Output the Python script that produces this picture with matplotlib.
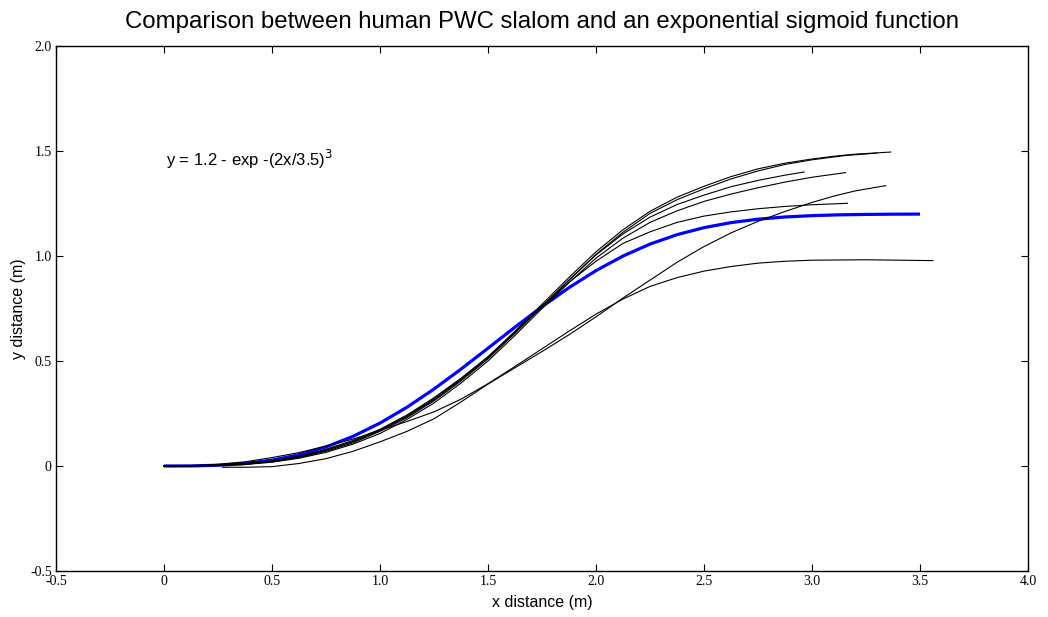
import matplotlib
matplotlib.use("Agg")
import matplotlib.pyplot as plt

# Fitted sigmoid y = 1.2(1 - exp(-(2x/3.5)^3)), tabulated
sig_x = [0, 0.125, 0.25, 0.375, 0.5, 0.625, 0.75, 0.875, 1.0, 1.125, 1.25, 1.375,
         1.5, 1.625, 1.75, 1.875, 2.0, 2.125, 2.25, 2.375, 2.5, 2.625, 2.75,
         2.875, 3.0, 3.125, 3.25, 3.375, 3.5]
sig_y = [0, 0.0004, 0.0035, 0.0117, 0.0277, 0.0534, 0.0908, 0.141, 0.2043, 0.280,
         0.3665, 0.4613, 0.5608, 0.6612, 0.7585, 0.8493, 0.9303, 0.9997, 1.0567,
         1.1015, 1.135, 1.159, 1.1753, 1.1858, 1.1922, 1.196, 1.198, 1.1991, 1.1996]

# Recorded PWC slalom trajectories (x, y in metres)
grid = [0, 0.125, 0.25, 0.375, 0.5, 0.625, 0.75, 0.875, 1.0, 1.125, 1.25, 1.375,
        1.5, 1.625, 1.75, 1.875, 2.0, 2.125, 2.25, 2.375, 2.5, 2.625, 2.75, 2.875, 3.0]

run1_x = grid + [3.1, 3.2, 3.364]
run1_y = [0, 0.001, 0.004, 0.011, 0.022, 0.043, 0.075, 0.116, 0.17, 0.238, 0.32, 0.414,
          0.52, 0.642, 0.77, 0.898, 1.02, 1.125, 1.213, 1.28, 1.332, 1.378, 1.415, 1.442,
          1.462, 1.475, 1.485, 1.495]

run2_x = grid + [3.15, 3.3]
run2_y = [0, 0.001, 0.003, 0.009, 0.02, 0.04, 0.07, 0.11, 0.165, 0.23, 0.31, 0.405,
          0.51, 0.632, 0.76, 0.886, 1.008, 1.113, 1.203, 1.268, 1.32, 1.367, 1.405, 1.436,
          1.458, 1.478, 1.49]

run3_x = grid[:24] + [2.964]
run3_y = [0, 0.001, 0.003, 0.01, 0.022, 0.043, 0.075, 0.116, 0.17, 0.236, 0.315, 0.41,
          0.515, 0.636, 0.76, 0.885, 1.005, 1.105, 1.185, 1.245, 1.29, 1.33, 1.36, 1.385,
          1.40]

run4_x = grid + [3.155]
run4_y = [0, 0.0005, 0.002, 0.007, 0.018, 0.037, 0.065, 0.104, 0.155, 0.222, 0.30, 0.395,
          0.50, 0.622, 0.75, 0.873, 0.99, 1.085, 1.16, 1.215, 1.26, 1.295, 1.325, 1.352,
          1.375, 1.397]

run5_x = grid + [3.164]
run5_y = [0, 0.001, 0.004, 0.012, 0.025, 0.047, 0.08, 0.122, 0.175, 0.243, 0.325, 0.418,
          0.52, 0.638, 0.76, 0.875, 0.975, 1.06, 1.115, 1.16, 1.19, 1.21, 1.225, 1.236,
          1.244, 1.251]

run6_x = [0.27] + grid[3:] + [3.1, 3.2, 3.341]
run6_y = [-0.006, -0.006, -0.003, 0.012, 0.035, 0.07, 0.115, 0.165, 0.225, 0.305,
          0.39, 0.468, 0.545, 0.625, 0.71, 0.80, 0.885, 0.97, 1.045, 1.11, 1.165, 1.212,
          1.255, 1.285, 1.31, 1.335]

run7_x = grid + [3.25, 3.56]
run7_y = [0, 0.002, 0.008, 0.02, 0.04, 0.064, 0.095, 0.128, 0.17, 0.212, 0.258, 0.318,
          0.392, 0.474, 0.558, 0.642, 0.723, 0.795, 0.855, 0.897, 0.928, 0.95, 0.966,
          0.975, 0.98, 0.982, 0.978]

runs = [(run1_x, run1_y), (run2_x, run2_y), (run3_x, run3_y), (run4_x, run4_y),
        (run5_x, run5_y), (run6_x, run6_y), (run7_x, run7_y)]

x_ticks = [-0.5, 0, 0.5, 1.0, 1.5, 2.0, 2.5, 3.0, 3.5, 4.0]
x_tick_labels = ["-0.5", "0", "0.5", "1.0", "1.5", "2.0", "2.5", "3.0", "3.5", "4.0"]
y_ticks = [-0.5, 0, 0.5, 1.0, 1.5, 2.0]
y_tick_labels = ["-0.5", "0", "0.5", "1.0", "1.5", "2.0"]

fig = plt.figure(figsize=(10.48, 6.17), dpi=100)
ax = fig.add_axes([56 / 1048, 1 - 571 / 617, 972 / 1048, 525 / 617])

ax.plot(sig_x, sig_y, color="#0000ff", lw=2.3, zorder=2, solid_capstyle="butt")
for rx, ry in runs:
    ax.plot(rx, ry, color="black", lw=0.8, zorder=3)

ax.set_xlim(-0.5, 4.0)
ax.set_ylim(-0.5, 2.0)
ax.set_xticks(x_ticks)
ax.set_xticklabels(x_tick_labels, fontfamily="Liberation Serif", fontsize=10)
ax.set_yticks(y_ticks)
ax.set_yticklabels(y_tick_labels, fontfamily="Liberation Serif", fontsize=10)
ax.tick_params(direction="in", length=5, width=0.8, top=True, right=True, pad=3)
for sp in ax.spines.values():
    sp.set_linewidth(1.0)

ax.set_xlabel("x distance (m)", fontfamily="Liberation Sans", fontsize=11.5, labelpad=5)
ax.set_ylabel("y distance (m)", fontfamily="Liberation Sans", fontsize=11.5, labelpad=3)
ax.set_title("Comparison between human PWC slalom and an exponential sigmoid function",
             fontfamily="Liberation Sans", fontsize=17.3, pad=13)

ax.text(0.01, 1.462, r"y = 1.2 - exp -(2x/3.5)$^{3}$", fontfamily="Liberation Sans",
        fontsize=12, va="center", ha="left")

fig.savefig("out.png", dpi=100)
